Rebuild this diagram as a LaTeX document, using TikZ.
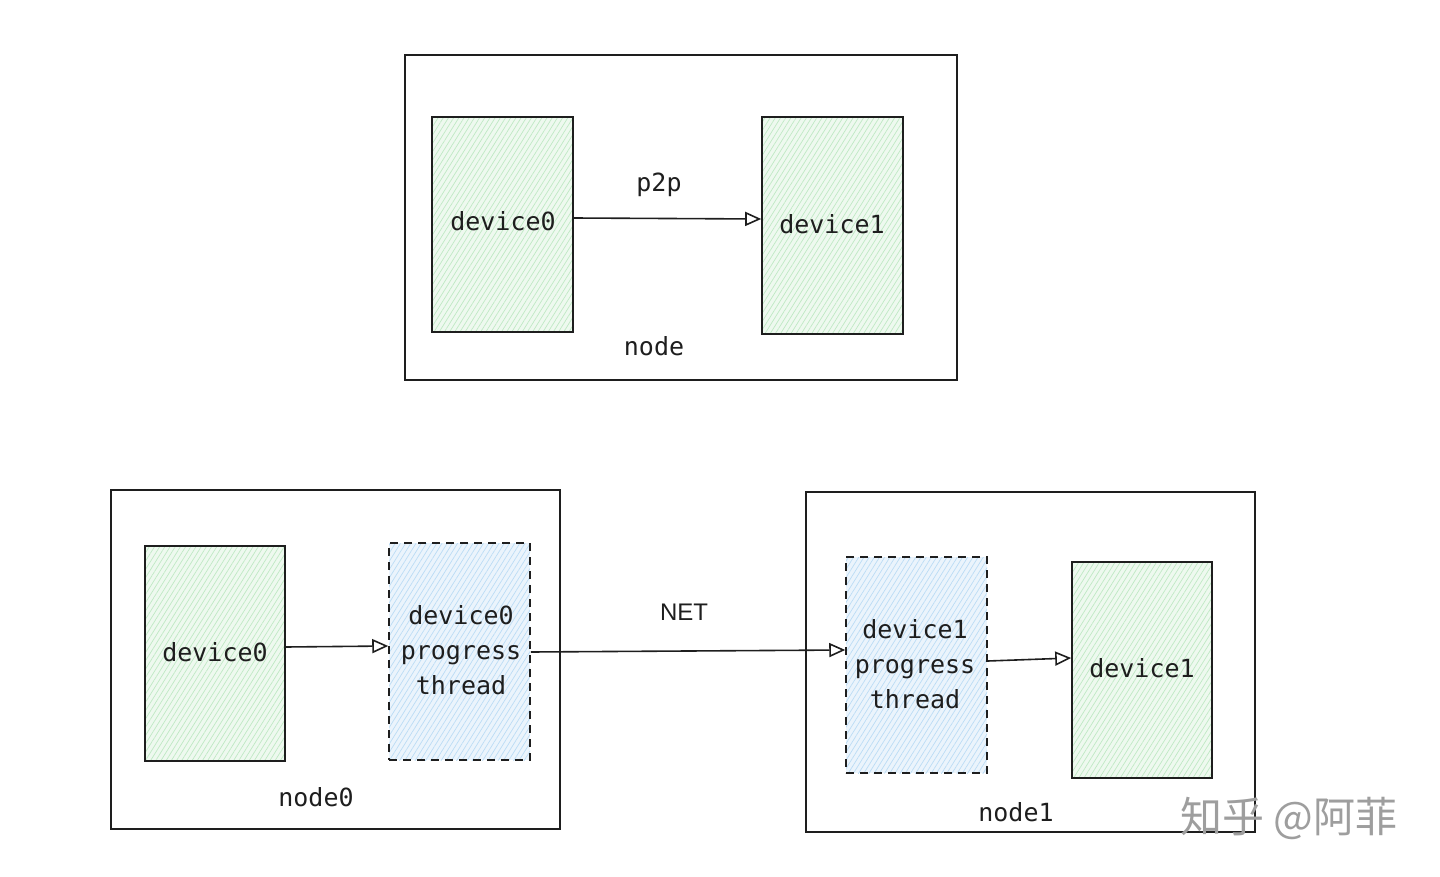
\documentclass[tikz,border=0pt]{standalone}
\usepackage{fontspec}
\setmonofont{DejaVu Sans Mono}
\newfontfamily\netfont{Liberation Sans}
\newfontfamily\cjk{Noto Sans CJK SC}
\usetikzlibrary{arrows.meta,fit,patterns.meta}
\definecolor{gbase}{HTML}{EEF9EF}
\definecolor{gline}{HTML}{BFE9C4}
\definecolor{bbase}{HTML}{EBF4FC}
\definecolor{bline}{HTML}{BBDCF5}
\definecolor{ink}{HTML}{1E1E1E}
\tikzset{
  outerbox/.style={draw=ink, line width=0.8pt, inner sep=0pt},
  greenbox/.style={draw=ink, line width=0.8pt, inner sep=0pt,
    preaction={fill=gbase},
    pattern={Lines[angle=58,distance=2.2pt,line width=0.35pt]}, pattern color=gline},
  bluebox/.style={draw=ink, line width=0.75pt, inner sep=0pt, dash pattern=on 4pt off 3pt,
    preaction={fill=bbase},
    pattern={Lines[angle=58,distance=2.2pt,line width=0.35pt]}, pattern color=bline},
  lbl/.style={font=\ttfamily\fontsize{12.5}{17.5}\selectfont, text=ink, align=center, inner sep=0pt},
  netlbl/.style={font=\netfont\fontsize{12}{14}\selectfont, text=ink, inner sep=0pt},
  arr/.style={draw=ink, line width=0.8pt, -{Triangle[open,length=8pt,width=7pt]}},
  wm/.style={font=\cjk\fontsize{21}{24}\selectfont, text=black!38, inner sep=0pt}
}
\begin{document}
\begin{tikzpicture}[x=0.5pt,y=-0.5pt]
\useasboundingbox (0,0) rectangle (1440,877);
% ---- top ----
\node[outerbox, fit={(405,55) (957,380)}] (top) {};
\node[greenbox, fit={(432,117) (573,332)}] (tg0) {};
\node[greenbox, fit={(762,117) (903,334)}] (tg1) {};
\node[lbl] (tg0t) at (503,221) {device0};
\node[lbl] (tg1t) at (832,224) {device1};
\node[lbl] (p2p) at (659,185) {p2p};
\node[lbl] (nodet) at (654,346) {node};
\draw[arr] (tg0.east |- 0,218) -- (tg1.west |- 0,219);
% ---- bottom left ----
\node[outerbox, fit={(111,490) (560,829)}] (n0) {};
\node[greenbox, fit={(145,546) (285,761)}] (bg0) {};
\node[bluebox, fit={(389,543) (530,760)}] (bb0) {};
\node[lbl] (bg0t) at (215,652) {device0};
\node[lbl] (bb0t) at (461,650) {device0\\progress\\thread};
\node[lbl] (n0t) at (316,797) {node0};
\draw[arr] (bg0.east |- 0,647) -- (bb0.west |- 0,646);
% ---- bottom right ----
\node[outerbox, fit={(806,492) (1255,832)}] (n1) {};
\node[bluebox, fit={(846,557) (987,773)}] (bb1) {};
\node[greenbox, fit={(1072,562) (1212,778)}] (bg1) {};
\node[lbl] (bb1t) at (915,664) {device1\\progress\\thread};
\node[lbl] (bg1t) at (1142,668) {device1};
\node[lbl] (n1t) at (1016,812) {node1};
\draw[arr] (bb1.east |- 0,661) -- (bg1.west |- 0,658);
% ---- NET ----
\node[netlbl] (net) at (684,612) {NET};
\draw[arr] (bb0.east |- 0,652) -- (bb1.west |- 0,650);
% ---- watermark ----
\node[wm] (wmk) at (1289,818) {知乎 @阿菲};
\end{tikzpicture}
\end{document}
